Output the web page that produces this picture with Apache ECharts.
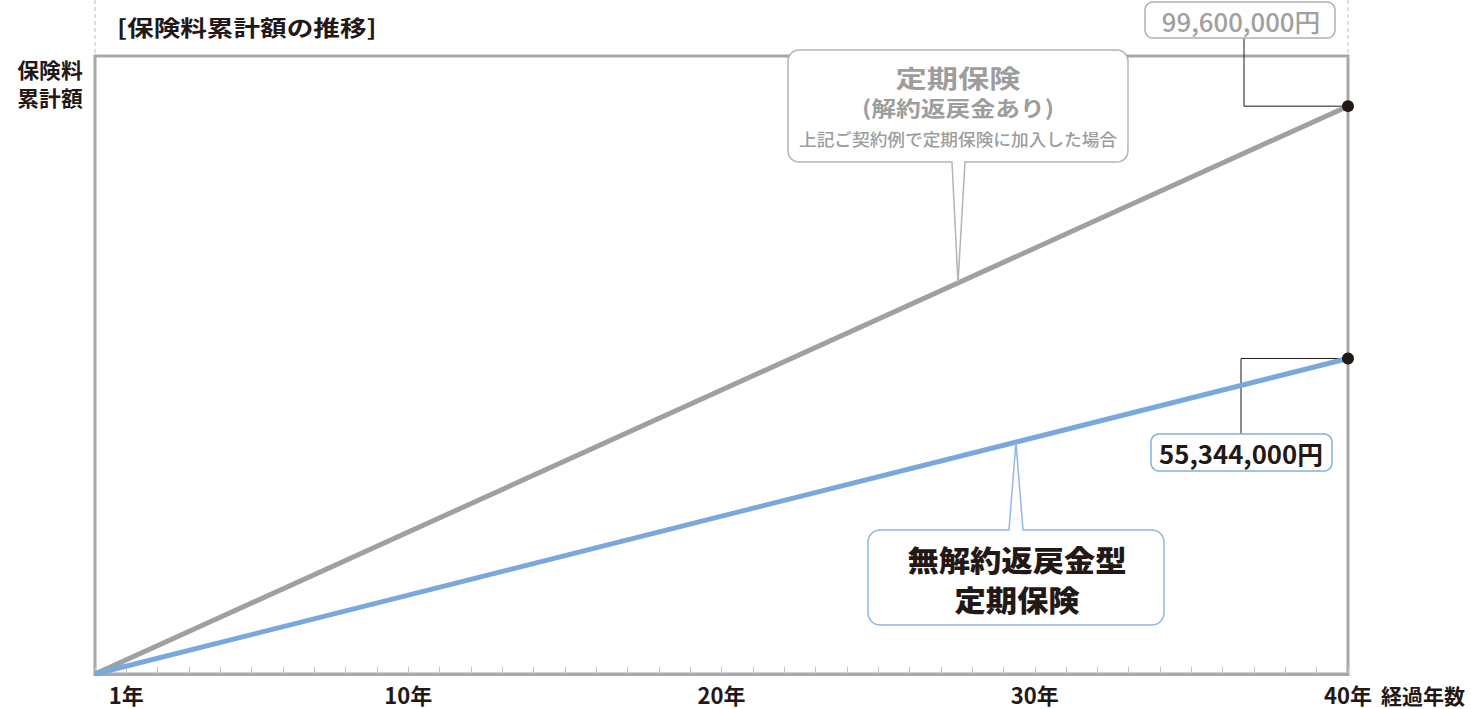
<!DOCTYPE html>
<html lang="ja">
<head>
<meta charset="utf-8">
<title>保険料累計額の推移</title>
<script src="https://cdn.jsdelivr.net/npm/echarts@6/dist/echarts.min.js"></script>
<style>
  html, body { margin: 0; padding: 0; background: #ffffff; }
  #chart { width: 1471px; height: 709px; }
</style>
</head>
<body>
<div id="chart"></div>
<script>
// ---- data ----
const years = [0, 40];
const termValues = [0, 99600000];        // 定期保険（解約返戻金あり）
const noRefundValues = [0, 55344000];    // 無解約返戻金型定期保険
const xTickLabels = [1, 10, 20, 30, 40];
const titleText = '[保険料累計額の推移]';
const yAxisTitle = ['保険料', '累計額'];
const xAxisTitle = '経過年数';
const termLabel = ['定期保険', '(解約返戻金あり)', '上記ご契約例で定期保険に加入した場合'];
const noRefundLabel = ['無解約返戻金型', '定期保険'];
const termEndText = '99,600,000円';
const noRefundEndText = '55,344,000円';

const FONT = '"Noto Sans CJK JP", "Noto Sans", sans-serif';
const DARK = '#231815';
const GRAY_LINE = '#a0a0a0';
const BLUE_LINE = '#78a8dc';
const Y_MAX = 108400000;

const chart = echarts.init(document.getElementById('chart'), null, { renderer: 'svg' });

function seriesData(vals) {
  return years.map((y, i) => ({
    value: [y, vals[i]],
    symbol: i === years.length - 1 ? 'circle' : 'none',
    symbolSize: 12
  }));
}

chart.setOption({
  animation: false,
  backgroundColor: '#ffffff',
  grid: {
    left: 95, right: 123, top: 56, bottom: 35,
    outerBoundsMode: 'none',
    containLabel: false,
    show: true, borderColor: '#a8a8a8', borderWidth: 3, backgroundColor: 'transparent'
  },
  xAxis: {
    type: 'value', min: 0, max: 40, interval: 1,
    axisLine: { show: true, lineStyle: { color: '#a8a8a8', width: 3 } },
    axisTick: { show: true, inside: true, length: 7, lineStyle: { color: '#c4c4c4', width: 1 } },
    splitLine: { show: false },
    axisLabel: {
      margin: 9,
      fontFamily: FONT, fontSize: 22, fontWeight: 'bold', color: DARK, lineHeight: 22,
      formatter: v => xTickLabels.indexOf(v) >= 0 ? v + '年' : ''
    },
    name: xAxisTitle, nameLocation: 'end', nameGap: 33,
    nameTextStyle: { fontFamily: FONT, fontSize: 21, fontWeight: 'bold', color: DARK, lineHeight: 22, verticalAlign: 'top', align: 'left', padding: [10, 0, 0, 0] }
  },
  yAxis: {
    type: 'value', min: 0, max: Y_MAX,
    axisLine: { show: false }, axisTick: { show: false },
    axisLabel: { show: false }, splitLine: { show: false }
  },
  series: [
    {
      name: '定期保険', type: 'line', data: seriesData(termValues),
      lineStyle: { color: GRAY_LINE, width: 5 },
      itemStyle: { color: DARK }, clip: false, z: 3
    },
    {
      name: '無解約返戻金型定期保険', type: 'line', data: seriesData(noRefundValues),
      lineStyle: { color: BLUE_LINE, width: 5 },
      itemStyle: { color: DARK }, clip: false, z: 4
    }
  ]
});

function px(x, y) { return chart.convertToPixel({ gridIndex: 0 }, [x, y]); }
function onLine(vals, yr) { return vals[0] + (vals[1] - vals[0]) * (yr - years[0]) / (years[1] - years[0]); }

// rounded box outline (polygon points), optional pointer tail on top or bottom
function corner(pts, cx, cy, r, a0, a1) {
  const n = 6;
  for (let i = 0; i <= n; i++) {
    const a = a0 + (a1 - a0) * i / n;
    pts.push([cx + r * Math.cos(a), cy + r * Math.sin(a)]);
  }
}
function calloutPoints(x, y, w, h, r, side, bx0, bx1, tx, ty) {
  const P = Math.PI, pts = [];
  corner(pts, x + r, y + r, r, P, 1.5 * P);
  if (side === 'top') { pts.push([bx0, y], [tx, ty], [bx1, y]); }
  corner(pts, x + w - r, y + r, r, 1.5 * P, 2 * P);
  corner(pts, x + w - r, y + h - r, r, 0, 0.5 * P);
  if (side === 'bottom') { pts.push([bx1, y + h], [tx, ty], [bx0, y + h]); }
  corner(pts, x + r, y + h - r, r, 0.5 * P, P);
  return pts;
}

function txt(x, y, text, size, weight, color, align, scaleX) {
  return {
    type: 'text', x: x, y: y, scaleX: scaleX || 1, z: 110,
    style: {
      text: text, fontFamily: FONT, fontSize: size, fontWeight: weight, fill: color,
      align: align || 'center', verticalAlign: 'middle', lineHeight: size
    }
  };
}
function box(points, stroke) {
  return { type: 'polygon', z: 100, shape: { points: points }, style: { fill: '#ffffff', stroke: stroke, lineWidth: 1.5 } };
}

const origin = px(0, 0), rightTop = px(40, Y_MAX);
const termEnd = px(years[1], termValues[1]);
const noRefEnd = px(years[1], noRefundValues[1]);
const grayTip = px(27.55, onLine(termValues, 27.55));
const blueTip = px(29.4, onLine(noRefundValues, 29.4));

const graphics = [
  { type: 'line', z: 1, shape: { x1: origin[0], y1: 0, x2: origin[0], y2: rightTop[1] - 2 }, style: { stroke: '#bdbdbd', lineWidth: 1, lineDash: [4, 3] } },
  { type: 'line', z: 1, shape: { x1: rightTop[0], y1: 0, x2: rightTop[0], y2: rightTop[1] - 2 }, style: { stroke: '#bdbdbd', lineWidth: 1, lineDash: [4, 3] } },
  txt(117, 27, titleText, 22, 'bold', DARK, 'left', 1.21),
  txt(50, 69, yAxisTitle[0], 21, 'bold', DARK, 'center', 1.04),
  txt(50, 97, yAxisTitle[1], 21, 'bold', DARK, 'center', 1.04),
  { type: 'polyline', z: 1, shape: { points: [[1244, 38], [1244, termEnd[1]], [termEnd[0], termEnd[1]]] }, style: { stroke: DARK, lineWidth: 1, fill: null } },
  { type: 'polyline', z: 1, shape: { points: [[1241, 434], [1241, noRefEnd[1]], [noRefEnd[0], noRefEnd[1]]] }, style: { stroke: DARK, lineWidth: 1, fill: null } },
  box(calloutPoints(1145, 2, 190, 36, 8, 'none'), '#b0b0b0'),
  txt(1241, 21, termEndText, 25, 500, '#a0a0a0', 'center', 1.03),
  box(calloutPoints(1151, 434, 181, 37, 8, 'none'), '#80b0e2'),
  txt(1241, 453, noRefundEndText, 25, 'bold', DARK, 'center', 1.03),
  box(calloutPoints(788, 50, 340, 112, 11, 'bottom', 952, 965, grayTip[0], grayTip[1]), '#b4b4b4'),
  txt(958, 77, termLabel[0], 25, 'bold', '#9d9d9d', 'center', 1.25),
  txt(958, 107, termLabel[1], 21, 'bold', '#9d9d9d', 'center', 1.18),
  txt(958, 139, termLabel[2], 17, 500, '#9d9d9d', 'center', 1.04),
  box(calloutPoints(868, 530, 296, 95, 12, 'top', 1009, 1023, blueTip[0], blueTip[1]), '#8fb8e4'),
  txt(1017, 560, noRefundLabel[0], 29, 900, DARK, 'center', 1.08),
  txt(1017, 600, noRefundLabel[1], 29, 900, DARK, 'center', 1.08)
];

chart.setOption({ graphic: { elements: graphics } });
</script>
</body>
</html>
